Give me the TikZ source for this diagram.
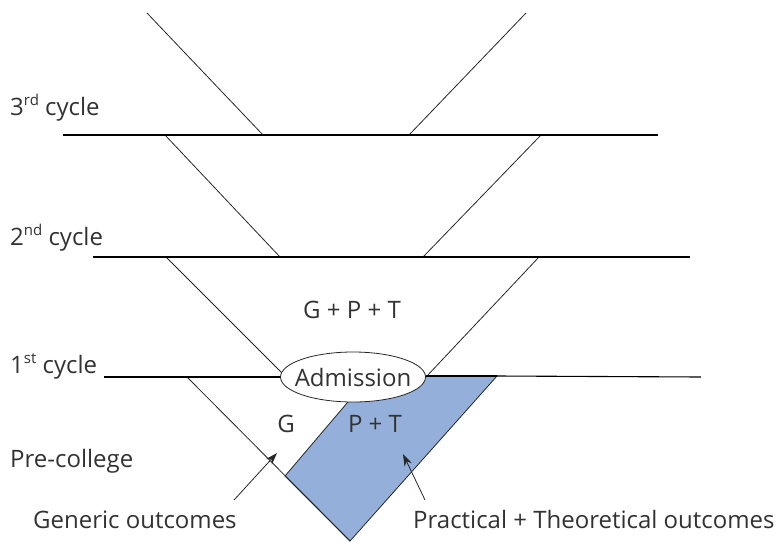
\documentclass[tikz,border=0pt]{standalone}
\usepackage{fontspec}
\setmainfont{Open Sans}
\usetikzlibrary{arrows.meta}
\definecolor{bluefill}{RGB}{148,176,218}
\definecolor{txt}{RGB}{50,50,50}
\newcommand{\supx}[1]{\raisebox{0.4em}{\fontsize{15}{15}\selectfont #1}}
\begin{document}
\begin{tikzpicture}[x=1pt,y=-1pt,
  thinline/.style={line width=0.8pt, draw=black!85},
  thickline/.style={line width=1.8pt, draw=black},
  lbl/.style={font=\fontsize{24}{28}\selectfont, text=txt, inner sep=0pt, anchor=base west},
  clbl/.style={lbl, anchor=base},
  arr/.style={thinline, -{Stealth[length=12pt,width=8pt]}}]
\useasboundingbox (0,0) rectangle (781,541);
% coordinates
\coordinate (t1a) at (147,13);  \coordinate (t1b) at (263,135);
\coordinate (t2a) at (526,13);  \coordinate (t2b) at (409,135);
\coordinate (s2la) at (165,135); \coordinate (s2lb) at (280,257);
\coordinate (s2ra) at (541,135); \coordinate (s2rb) at (423,257);
\coordinate (s3la) at (166,257); \coordinate (s3lb) at (286,377);
\coordinate (s3ra) at (539,257); \coordinate (s3rb) at (426,377);
\coordinate (l3a) at (63,135);  \coordinate (l3b) at (658,135);
\coordinate (l2a) at (93,257);  \coordinate (l2b) at (690,257);
\coordinate (l1a) at (104,377); \coordinate (l1b) at (290,377);
\coordinate (l1c) at (426,376); \coordinate (l1d) at (701,377);
\coordinate (va) at (187,377);  \coordinate (vb) at (350,541);
\coordinate (bl) at (285,476);  \coordinate (btr) at (497,376);
\coordinate (btl) at (370,376);
\coordinate (admc) at (353,377);
\coordinate (gtail) at (234,500); \coordinate (gtip) at (277,453);
\coordinate (ptail) at (425,500); \coordinate (ptip) at (403,454);
% blue region
\draw[thinline, fill=bluefill] (bl) -- (vb) -- (btr) -- (btl) -- cycle;
% diagonals
\draw[thinline] (t1a) -- (t1b);
\draw[thinline] (t2a) -- (t2b);
\draw[thinline] (s2la) -- (s2lb);
\draw[thinline] (s2ra) -- (s2rb);
\draw[thinline] (s3la) -- (s3lb);
\draw[thinline] (s3ra) -- (s3rb);
\draw[thinline] (va) -- (vb);
% horizontal cycle lines
\draw[thickline] (l3a) -- (l3b);
\draw[thickline] (l2a) -- (l2b);
\draw[thickline] (l1a) -- (l1b);
\draw[thickline] (l1c) -- (btr);
\draw[line width=1.1pt] (btr) -- (l1d);
% admission ellipse
\draw[thinline, fill=white] (admc) ellipse [x radius=72.5, y radius=25];
\node[font=\fontsize{24}{28}\selectfont, text=txt, inner sep=0pt] (adm) at (admc) {Admission};
% labels
\node[lbl] (c3) at (10,115) {3\supx{rd} cycle};
\node[lbl] (c2) at (10,245) {2\supx{nd} cycle};
\node[lbl] (c1) at (10,373) {1\supx{st} cycle};
\node[lbl] (pc) at (10,467) {Pre-college};
\node[lbl] (gen) at (33,528) {Generic outcomes};
\node[lbl] (pto) at (413,528) {Practical + Theoretical outcomes};
\node[clbl] (gpt) at (352,318) {G + P + T};
\node[clbl] (g) at (286,432) {G};
\node[clbl] (pt) at (375,432) {P + T};
% arrows
\draw[arr] (gtail) -- (gtip);
\draw[arr] (ptail) -- (ptip);
\end{tikzpicture}
\end{document}
